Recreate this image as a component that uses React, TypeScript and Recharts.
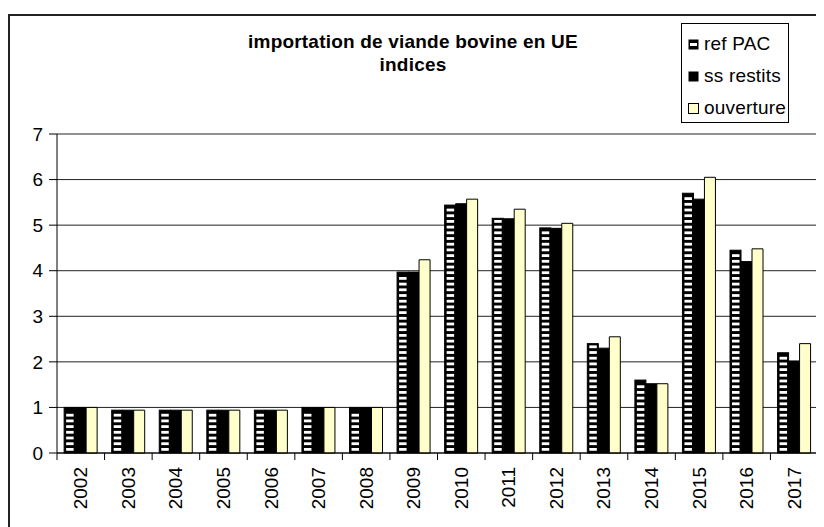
import React from 'react';
import { BarChart, Bar, XAxis, YAxis, CartesianGrid, Legend } from 'recharts';

const years = ['2002', '2003', '2004', '2005', '2006', '2007', '2008', '2009', '2010', '2011', '2012', '2013', '2014', '2015', '2016', '2017'];
const refPac = [1, 0.94, 0.94, 0.94, 0.94, 1, 1, 3.97, 5.44, 5.15, 4.94, 2.4, 1.6, 5.7, 4.45, 2.2];
const ssRestits = [1, 0.94, 0.94, 0.94, 0.94, 1, 1, 3.97, 5.47, 5.14, 4.93, 2.3, 1.52, 5.57, 4.2, 2.02];
const ouverture = [1, 0.94, 0.94, 0.94, 0.94, 1, 1, 4.24, 5.57, 5.35, 5.04, 2.55, 1.52, 6.05, 4.48, 2.4];
const yTicks = [0, 1, 2, 3, 4, 5, 6, 7];
const legendOrder = ['refPac', 'ssRestits', 'ouverture'];

const data = years.map((year, i) => ({
  year,
  refPac: refPac[i],
  ssRestits: ssRestits[i],
  ouverture: ouverture[i],
}));

const FONT = '"Liberation Sans", Arial, sans-serif';

// black bar with white horizontal dashes, like the Excel pattern fill
const StripedBar = (props: any) => {
  const { x, y, width, height } = props;
  if (!height || height <= 0) return null;
  const stripes = [];
  for (let sy = y + height - 5; sy > y + 1.5; sy -= 5.7) {
    stripes.push(<rect key={sy} x={x + 2} y={sy} width={Math.max(width - 3.5, 0)} height={2.8} fill="#fff" />);
  }
  return (
    <g>
      <rect x={x} y={y} width={width} height={height} fill="#000" stroke="#000" strokeWidth={1} />
      {stripes}
    </g>
  );
};

// label rotated, plus tick marks on the category boundaries
const YearTick = (props: any) => {
  const { x, y, payload, index, visibleTicksCount } = props;
  const half = payload.offset || 0;
  const ty = y + 14;
  const isLast = index === (visibleTicksCount ?? years.length) - 1;
  return (
    <g>
      <line x1={x - half} x2={x - half} y1={y} y2={y + 7} stroke="#000" />
      {isLast && <line x1={x + half} x2={x + half} y1={y} y2={y + 7} stroke="#000" />}
      <text
        x={x}
        y={ty}
        transform={`rotate(-90 ${x} ${ty})`}
        textAnchor="end"
        dominantBaseline="central"
        fontSize={19}
        fontFamily={FONT}
        fill="#000"
      >
        {payload.value}
      </text>
    </g>
  );
};

const swatchStyle = { marginRight: 5, flexShrink: 0 };

const swatch = (key: string) => {
  if (key === 'refPac') {
    return (
      <svg width={11} height={11} style={swatchStyle}>
        <rect x={0.5} y={0.5} width={10} height={10} fill="#000" />
        <rect x={2} y={4} width={7} height={3} fill="#fff" />
      </svg>
    );
  }
  if (key === 'ssRestits') {
    return (
      <svg width={11} height={11} style={swatchStyle}>
        <rect x={0.5} y={0.5} width={10} height={10} fill="#000" />
      </svg>
    );
  }
  return (
    <svg width={11} height={11} style={swatchStyle}>
      <rect x={0.5} y={0.5} width={10} height={10} fill="#FFFFCC" stroke="#000" />
    </svg>
  );
};

const LegendBox = (props: any) => {
  const items = [...(props.payload || [])].sort(
    (a: any, b: any) => legendOrder.indexOf(a.dataKey) - legendOrder.indexOf(b.dataKey)
  );
  return (
    <div
      style={{
        border: '1.5px solid #000',
        background: '#fff',
        padding: '4px 0 0 6px',
        fontFamily: FONT,
        fontSize: 19,
        color: '#000',
        boxSizing: 'border-box',
        width: 108,
        height: 100,
        overflow: 'hidden',
      }}
    >
      {items.map((p: any) => (
        <div key={p.dataKey} style={{ display: 'flex', alignItems: 'center', height: 32, letterSpacing: 0.2, whiteSpace: 'nowrap' }}>
          {swatch(p.dataKey)}
          <span>{p.value}</span>
        </div>
      ))}
    </div>
  );
};

const App = () => {
  return (
    <div style={{ position: 'relative', width: 816, height: 519 }}>
      <div
        style={{
          position: 'absolute',
          left: 0,
          top: 6,
          width: 816,
          height: 513,
          borderLeft: '2px solid #222',
          borderTop: '2px solid #222',
        }}
      />
      <div
        style={{
          position: 'absolute',
          left: 0,
          top: 22,
          width: 810,
          textAlign: 'center',
          fontFamily: FONT,
          fontWeight: 'bold',
          fontSize: 19,
          lineHeight: '23px',
          letterSpacing: 0.2,
          color: '#000',
        }}
      >
        importation de viande bovine en UE
        <br />
        indices
      </div>
      <BarChart
        width={816}
        height={519}
        data={data}
        margin={{ top: 126, right: 6, left: 0, bottom: 0 }}
        barCategoryGap="15%"
        barGap={0}
        style={{ position: 'absolute', left: 0, top: 0 }}
      >
        <CartesianGrid vertical={false} stroke="#222" strokeOpacity={1} />
        <XAxis
          dataKey="year"
          height={74}
          interval={0}
          tickLine={false}
          tickSize={0}
          tickMargin={0}
          axisLine={{ stroke: '#000' }}
          tick={<YearTick />}
        />
        <YAxis
          width={49}
          domain={[0, 7]}
          ticks={yTicks}
          interval={0}
          tickSize={8}
          tickMargin={6}
          axisLine={{ stroke: '#000' }}
          tickLine={{ stroke: '#000' }}
          tick={{ fontSize: 19, fill: '#000', fontFamily: FONT }}
        />
        <YAxis
          yAxisId="r"
          orientation="right"
          width={0}
          domain={[0, 7]}
          tick={false}
          tickLine={false}
          axisLine={{ stroke: '#808080' }}
        />
        <Legend
          layout="vertical"
          align="center"
          verticalAlign="middle"
          content={<LegendBox />}
          wrapperStyle={{ left: 673, top: 15, width: 108 }}
        />
        <Bar dataKey="refPac" name="ref PAC" shape={<StripedBar />} isAnimationActive={false} />
        <Bar dataKey="ssRestits" name="ss restits" fill="#000" stroke="#000" isAnimationActive={false} />
        <Bar dataKey="ouverture" name="ouverture" fill="#FFFFCC" stroke="#000" strokeWidth={1} isAnimationActive={false} />
      </BarChart>
    </div>
  );
};

export default App;
